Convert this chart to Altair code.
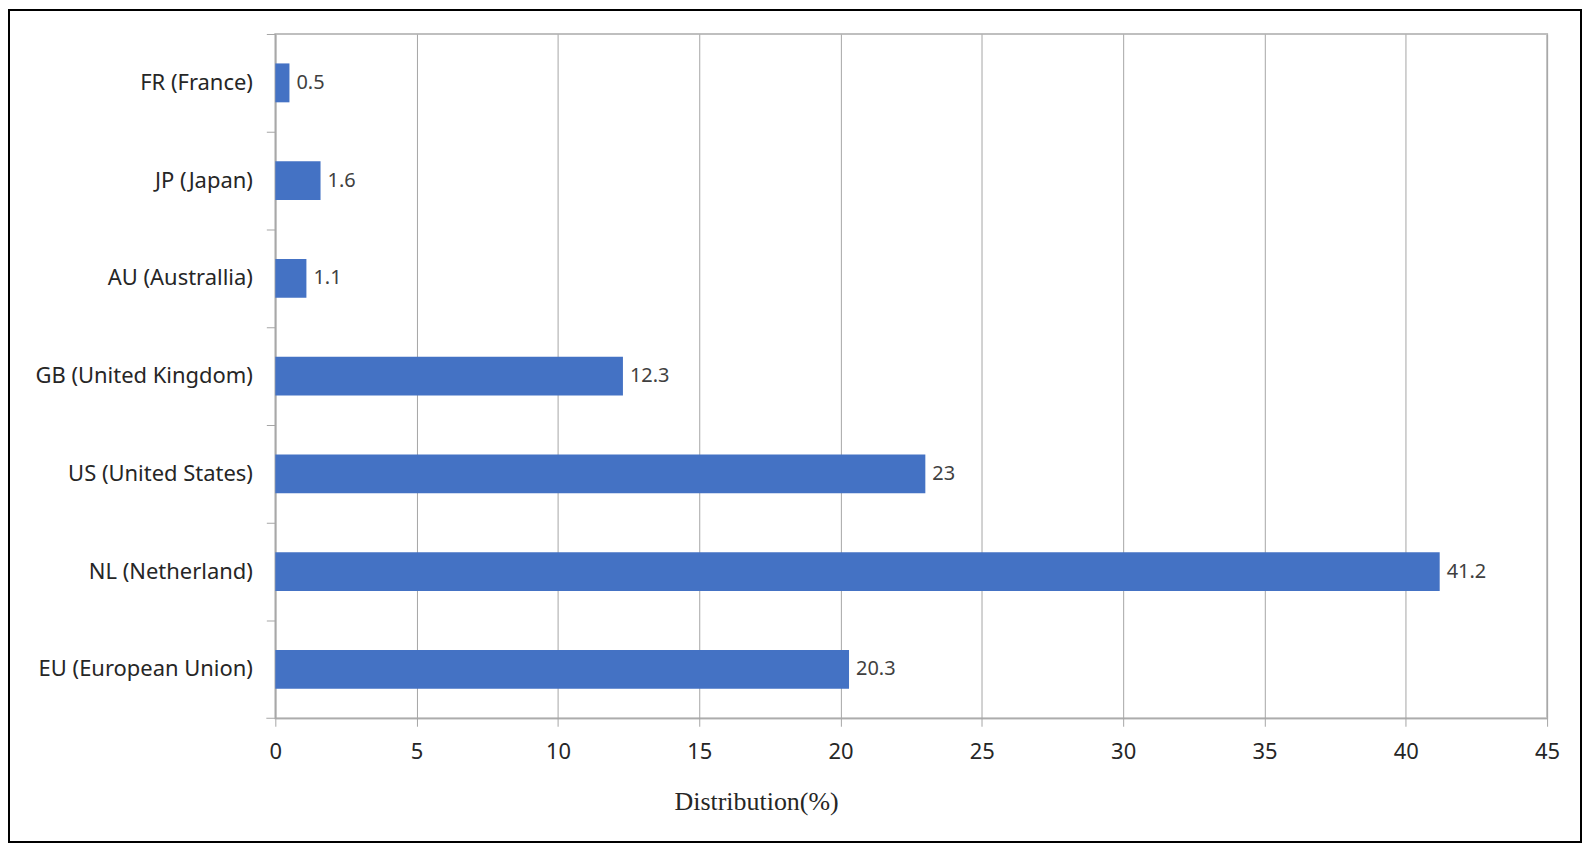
import altair as alt
import pandas as pd

countries = ["FR (France)", "JP (Japan)", "AU (Australlia)", "GB (United Kingdom)",
             "US (United States)", "NL (Netherland)", "EU (European Union)"]
values = [0.5, 1.6, 1.1, 12.3, 23, 41.2, 20.3]
labels = ["0.5", "1.6", "1.1", "12.3", "23", "41.2", "20.3"]
x_ticks = [0, 5, 10, 15, 20, 25, 30, 35, 40, 45]

df = pd.DataFrame({"country": countries, "value": values, "label": labels})

W, H = 1275, 686
GREY = "#a6a6a6"

y_enc = alt.Y(
    "country:N", sort=countries,
    scale=alt.Scale(paddingInner=0, paddingOuter=0),
    axis=alt.Axis(title=None, bandPosition=0, labelFont="Noto Sans", labelFontSize=22,
                  labelColor="#262626", tickSize=9, tickColor=GREY, domainColor=GREY,
                  labelPadding=14, labelLimit=0, grid=False),
)
x_enc = alt.X(
    "value:Q",
    scale=alt.Scale(domain=[0, 45], nice=False),
    axis=alt.Axis(values=x_ticks, title="Distribution(%)", titleFont="Liberation Serif",
                  titleFontSize=26, titleFontWeight="normal", titleColor="#262626",
                  titleX=482, titleY=91, titleBaseline="alphabetic", titleAlign="center",
                  labelFont="Noto Sans", labelFontSize=22, labelColor="#262626",
                  labelPadding=15, labelFlush=False, labelOverlap=False,
                  tickSize=8, tickColor=GREY, domainColor=GREY,
                  grid=True, gridColor=GREY, gridWidth=1),
)

base = alt.Chart(df)
bars = base.mark_bar(size=39, color="#4472C4").encode(x=x_enc, y=y_enc)
text = base.mark_text(align="left", baseline="middle", dx=7, font="Noto Sans",
                      fontSize=20, color="#404040").encode(
    x="value:Q", y=alt.Y("country:N", sort=countries), text="label:N")

one = alt.Chart(pd.DataFrame({"a": [0]}))
bottom_tick = one.mark_rule(color=GREY, strokeWidth=1).encode(
    x=alt.value(-9), x2=alt.value(0), y=alt.value(H))
border = one.mark_rect(filled=False, stroke="black", strokeWidth=2).encode(
    x=alt.value(-267), x2=alt.value(1309), y=alt.value(-24), y2=alt.value(810))

chart = alt.layer(bars, text, bottom_tick, border).properties(
    width=W, height=H,
    padding={"left": 268, "top": 25, "right": 35, "bottom": 126},
    autosize="none",
).configure_view(stroke="#bfbfbf", strokeWidth=2)

chart.save("out.html", embed_options={"renderer": "svg", "actions": False})
